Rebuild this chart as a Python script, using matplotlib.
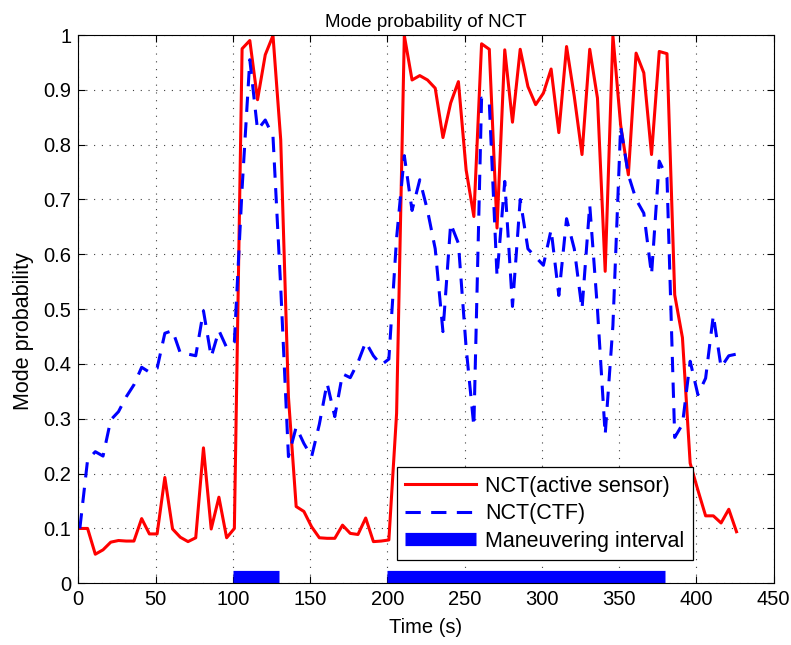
"""
Mode probability of the NCT model: active sensor vs. CTF tracker,
with the true maneuvering intervals marked along the time axis.
"""

import matplotlib

matplotlib.use("Agg")
import matplotlib.pyplot as plt
import numpy as np

# Sample times (s), every 5 s
time_s = np.arange(1, 427, 5)

# NCT(active sensor)
prob_active = [
    0.100, 0.100, 0.053, 0.061, 0.075, 0.078, 0.077, 0.077, 0.118, 0.090,
    0.090, 0.193, 0.099, 0.084, 0.076, 0.083, 0.247, 0.099, 0.157, 0.083,
    0.100, 0.975, 0.990, 0.882, 0.964, 0.999, 0.809, 0.340, 0.140, 0.131,
    0.103, 0.083, 0.082, 0.082, 0.106, 0.091, 0.089, 0.119, 0.076, 0.077,
    0.079, 0.310, 0.999, 0.918, 0.926, 0.918, 0.903, 0.813, 0.876, 0.915,
    0.754, 0.669, 0.984, 0.974, 0.648, 0.973, 0.841, 0.974, 0.906, 0.873,
    0.894, 0.938, 0.822, 0.979, 0.888, 0.782, 0.974, 0.885, 0.569, 0.999,
    0.836, 0.745, 0.967, 0.931, 0.782, 0.970, 0.966, 0.526, 0.448, 0.219,
    0.170, 0.123, 0.123, 0.110, 0.135, 0.094,
]

# NCT(CTF)
prob_ctf = [
    0.100, 0.225, 0.240, 0.232, 0.298, 0.313, 0.340, 0.362, 0.394, 0.385,
    0.392, 0.456, 0.461, 0.420, 0.418, 0.415, 0.497, 0.413, 0.461, 0.430,
    0.440, 0.720, 0.955, 0.827, 0.845, 0.815, 0.540, 0.231, 0.285, 0.255,
    0.231, 0.290, 0.365, 0.304, 0.382, 0.375, 0.403, 0.440, 0.415, 0.398,
    0.409, 0.630, 0.780, 0.680, 0.736, 0.680, 0.610, 0.459, 0.656, 0.620,
    0.430, 0.286, 0.885, 0.876, 0.560, 0.733, 0.505, 0.700, 0.610, 0.595,
    0.580, 0.645, 0.525, 0.665, 0.610, 0.500, 0.690, 0.500, 0.271, 0.470,
    0.833, 0.745, 0.700, 0.675, 0.563, 0.770, 0.740, 0.266, 0.290, 0.405,
    0.344, 0.374, 0.489, 0.394, 0.415, 0.418,
]

# Maneuvering intervals (start, end) in seconds
maneuver_intervals = [(100, 130), (200, 380)]

x_ticks = np.arange(0, 451, 50)
y_ticks = np.round(np.arange(0, 1.01, 0.1), 1)

plt.rcParams["font.family"] = ["Liberation Sans", "DejaVu Sans"]
plt.rcParams["font.size"] = 14

fig = plt.figure(figsize=(7.91, 6.45), dpi=100)
ax = fig.add_axes([0.099, 0.0957, 0.879, 0.85])

ax.plot(time_s, prob_active, color="#ff0000", lw=2.2, label="NCT(active sensor)")
ax.plot(time_s, prob_ctf, color="#0000ff", lw=2.2, dashes=(5, 3.4),
        label="NCT(CTF)")

# maneuver bars sit on the x axis
for i, (start, end) in enumerate(maneuver_intervals):
    ax.plot([start, end], [0.011, 0.011], color="#0000ff", lw=9.5,
            solid_capstyle="butt", label="Maneuvering interval" if i == 0 else None)

ax.set_xlim(0, 450)
ax.set_ylim(0, 1)
ax.set_xticks(x_ticks)
ax.set_yticks(y_ticks)
ax.set_yticklabels([f"{v:g}" for v in y_ticks])
ax.tick_params(direction="in", length=5, top=True, right=True, width=0.8,
               labelsize=14.5, pad=5)
ax.grid(True, color="0.25", linestyle=(0, (1, 6)), lw=0.8)
for spine in ax.spines.values():
    spine.set_linewidth(0.8)

ax.set_xlabel("Time (s)", fontsize=14.5, labelpad=6)
ax.set_ylabel("Mode probability", fontsize=15.5)
ax.yaxis.set_label_coords(-0.064, 0.46)
ax.set_title("Mode probability of NCT", fontsize=13.5, pad=6)

leg = ax.legend(loc="lower left", bbox_to_anchor=(0.458, 0.042), handlelength=3.3,
                fancybox=False, framealpha=1, edgecolor="black", borderpad=0.4,
                labelspacing=0.3, handletextpad=0.4, borderaxespad=0, fontsize=15.5)
leg.get_frame().set_linewidth(0.9)

fig.savefig("out.png", dpi=100)
